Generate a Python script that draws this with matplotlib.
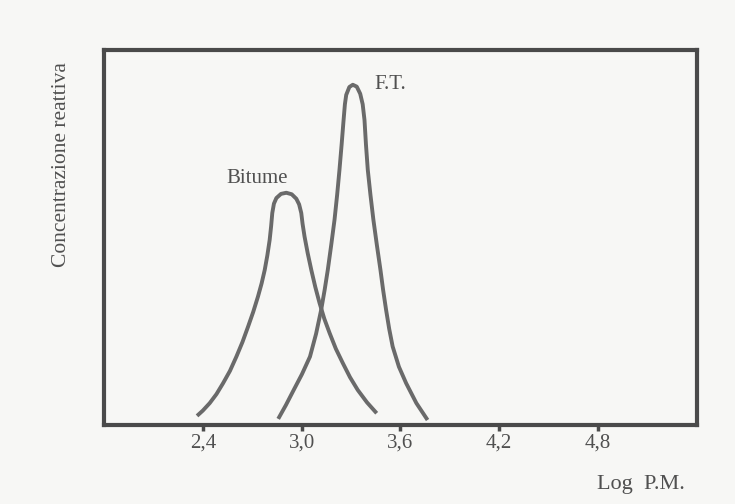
import matplotlib
matplotlib.use("Agg")
from matplotlib import pyplot as plt

# curve points (x = Log P.M., y = relative concentration)
bitume_x = [2.365, 2.400, 2.442, 2.483, 2.523, 2.565, 2.604, 2.641, 2.675, 2.706,
            2.735, 2.757, 2.776, 2.792, 2.806, 2.815, 2.822, 2.832, 2.847, 2.875,
            2.907, 2.940, 2.968, 2.985, 2.998, 3.006, 3.018, 3.037, 3.059, 3.083,
            3.109, 3.138, 3.170, 3.208, 3.250, 3.294, 3.341, 3.397, 3.456]
bitume_y = [0.024, 0.038, 0.058, 0.082, 0.111, 0.144, 0.182, 0.221, 0.262, 0.301,
            0.342, 0.377, 0.413, 0.452, 0.493, 0.530, 0.565, 0.590, 0.605, 0.616,
            0.619, 0.615, 0.603, 0.588, 0.565, 0.536, 0.502, 0.458, 0.413, 0.368,
            0.325, 0.283, 0.245, 0.203, 0.165, 0.127, 0.093, 0.060, 0.031]

ft_x = [2.858, 2.905, 2.952, 3.002, 3.051, 3.088, 3.119, 3.140, 3.159, 3.180,
        3.200, 3.216, 3.230, 3.243, 3.255, 3.263, 3.271, 3.290, 3.311, 3.335,
        3.356, 3.371, 3.382, 3.391, 3.402, 3.418, 3.436, 3.457, 3.479, 3.495,
        3.513, 3.532, 3.553, 3.591, 3.635, 3.697, 3.765]
ft_y = [0.016, 0.053, 0.093, 0.135, 0.182, 0.243, 0.307, 0.360, 0.413, 0.480,
        0.547, 0.614, 0.680, 0.747, 0.813, 0.855, 0.880, 0.901, 0.907, 0.902,
        0.883, 0.855, 0.813, 0.747, 0.680, 0.614, 0.547, 0.480, 0.413, 0.360,
        0.307, 0.256, 0.209, 0.155, 0.111, 0.058, 0.013]

tick_vals = [2.4, 3.0, 3.6, 4.2, 4.8]
tick_labels = ["2,4", "3,0", "3,6", "4,2", "4,8"]

bg = "#f7f7f5"
line_col = "#6a6a6a"
txt_col = "#505050"

plt.rcParams["font.family"] = ["Liberation Serif", "DejaVu Serif"]

fig = plt.figure(figsize=(7.35, 5.04), dpi=100, facecolor=bg)
ax = fig.add_axes([0.1415, 0.157, 0.8065, 0.744], facecolor=bg)

ax.plot(bitume_x, bitume_y, color=line_col, lw=2.8, solid_capstyle="butt",
        solid_joinstyle="round")
ax.plot(ft_x, ft_y, color=line_col, lw=2.8, solid_capstyle="butt",
        solid_joinstyle="round")

ax.set_xlim(1.8, 5.4)
ax.set_ylim(0, 1.0)

for s in ax.spines.values():
    s.set_color("#4a4a4a")
    s.set_linewidth(3)

ax.set_xticks(tick_vals)
ax.set_xticklabels(tick_labels, fontsize=15, color=txt_col)
ax.tick_params(axis="x", direction="out", length=4, width=2.5, color="#4a4a4a", pad=2)
ax.set_yticks([])

ax.text(2.727, 0.645, "Bitume", fontsize=15, color=txt_col, ha="center", va="baseline")
ax.text(3.54, 0.897, "F.T.", fontsize=15, color=txt_col, ha="center", va="baseline")

fig.text(0.872, 0.038, "Log  P.M.", fontsize=16, color=txt_col, ha="center", va="center")
fig.text(0.084, 0.673, "Concentrazione reattiva", fontsize=15.5, color=txt_col,
         rotation=90, ha="center", va="center")

fig.savefig("out.png", dpi=100, facecolor=bg)
